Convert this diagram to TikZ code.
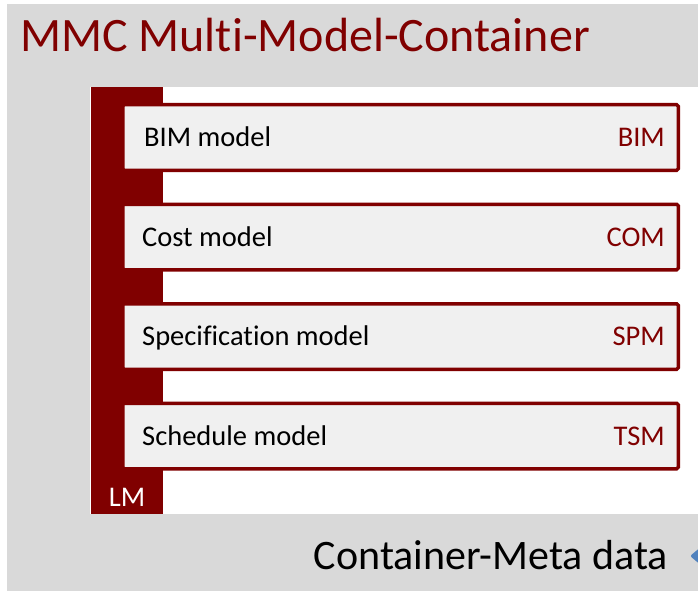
\documentclass[tikz,border=0pt]{standalone}
\usepackage{fontspec}
\setmainfont[Ligatures=NoCommon]{Carlito}
\usetikzlibrary{positioning}
\definecolor{mmcred}{RGB}{128,0,0}
\definecolor{bggray}{RGB}{217,217,217}
\definecolor{boxgray}{RGB}{240,240,240}
\definecolor{iconblue}{RGB}{79,129,189}

\begin{document}
\begin{tikzpicture}[x=1pt,y=-1pt,
  modelbox/.style={draw=mmcred,line width=3.5pt,rounded corners=1.5pt,fill=boxgray,minimum width=555.5pt,minimum height=65.5pt,inner sep=0pt},
  modelname/.style={inner sep=0pt,text height=18.5pt,text depth=0pt,font=\fontsize{28.5}{30}\selectfont},
  modelcode/.style={modelname,text=mmcred}]
  \useasboundingbox (0,0) rectangle (698,591);
  \fill[bggray] (7,4) rectangle (698,591);
  \fill[white] (90,87) rectangle (698,514);
  \node[anchor=base west,inner sep=0pt,text=mmcred,font=\fontsize{48}{50}\selectfont] (title) at (20,52) {MMC Multi-Model-Container};
  % link model bar
  \fill[mmcred] (91,87) rectangle (163,514);
  \node[anchor=base,inner sep=0pt,text=white,font=\fontsize{28.5}{30}\selectfont] (lm) at (127,506) {LM};
  % models
  \node[modelbox] (bim) at (400.5,137.5) {};
  \node[modelbox,below=30.5pt of bim] (com) {};
  \node[modelbox,below=30.5pt of com] (spm) {};
  \node[modelbox,below=30.5pt of spm] (tsm) {};
  \node[modelname,right=23pt of bim.west] (bimname) {BIM model};
  \node[modelcode,left=15pt of bim.east] (bimcode) {BIM};
  \node[modelname,right=21pt of com.west] (comname) {Cost model};
  \node[modelcode,left=15pt of com.east] (comcode) {COM};
  \node[modelname,right=21pt of spm.west] (spmname) {Specification model};
  \node[modelcode,left=15pt of spm.east] (spmcode) {SPM};
  \node[modelname,right=21pt of tsm.west] (tsmname) {Schedule model};
  \node[modelcode,left=15pt of tsm.east] (tsmcode) {TSM};
  % meta data
  \node[anchor=base east,inner sep=0pt,font=\fontsize{42}{44}\selectfont] (meta) at (668,569) {Container-Meta data};
  \fill[iconblue,rounded corners=2pt] (690,556) -- (702,546) -- (702,566) -- cycle;
\end{tikzpicture}
\end{document}
